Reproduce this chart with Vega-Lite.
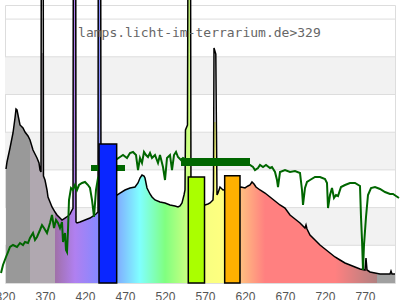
{
  "$schema": "https://vega.github.io/schema/vega-lite/v6.json",
  "width": 390,
  "height": 278,
  "autosize": "none",
  "padding": {"left": 5, "top": 5, "right": 5, "bottom": 17},
  "background": "white",
  "config": {"view": {"stroke": "#dddddd", "strokeWidth": 1}},
  "datasets": {
    "bands": [{"lo": 100, "hi": 200}, {"lo": 300, "hi": 400}, {"lo": 500, "hi": 600}],
    "grid": [{"g": 100}, {"g": 200}, {"g": 300}, {"g": 400}, {"g": 500}, {"g": 600}, {"g": 700}],
    "spec": [
      {"nm": 321.25, "v": 302.4, "f": 302.4}, {"nm": 322.5, "v": 321.0, "f": 321.0}, {"nm": 326.25, "v": 358.1, "f": 358.1},
      {"nm": 330, "v": 397.9, "f": 397.9}, {"nm": 332.5, "v": 437.7, "f": 437.7}, {"nm": 333.75, "v": 461.5, "f": 461.5},
      {"nm": 335, "v": 458.9, "f": 458.9}, {"nm": 336.25, "v": 445.6, "f": 445.6}, {"nm": 338.75, "v": 419.1, "f": 419.1},
      {"nm": 342.5, "v": 411.1, "f": 411.1}, {"nm": 345, "v": 400.5, "f": 400.5}, {"nm": 348.75, "v": 389.9, "f": 389.9},
      {"nm": 351.25, "v": 379.3, "f": 379.3}, {"nm": 355, "v": 352.8, "f": 352.8}, {"nm": 357.5, "v": 342.2, "f": 342.2},
      {"nm": 360, "v": 331.6, "f": 331.6}, {"nm": 362.5, "v": 318.3, "f": 318.3}, {"nm": 363.75, "v": 299.7, "f": 299.7},
      {"nm": 365, "v": 294.4, "f": 294.4}, {"nm": 365.4, "v": 900, "f": 610.1}, {"nm": 367.75, "v": 900, "f": 610.1},
      {"nm": 368.1, "v": 283.8, "f": 283.8}, {"nm": 370, "v": 273.2, "f": 273.2}, {"nm": 372.5, "v": 246.7, "f": 246.7},
      {"nm": 373.75, "v": 228.1, "f": 228.1}, {"nm": 376.25, "v": 214.9, "f": 214.9}, {"nm": 378.75, "v": 201.6, "f": 201.6},
      {"nm": 382.5, "v": 188.3, "f": 188.3}, {"nm": 385, "v": 180.4, "f": 180.4}, {"nm": 388.75, "v": 172.4, "f": 172.4},
      {"nm": 391.25, "v": 167.1, "f": 167.1}, {"nm": 395, "v": 172.4, "f": 172.4}, {"nm": 398.75, "v": 177.7, "f": 177.7},
      {"nm": 401.25, "v": 183.0, "f": 183.0}, {"nm": 403.75, "v": 193.6, "f": 193.6}, {"nm": 405, "v": 198, "f": 198},
      {"nm": 405.4, "v": 900, "f": 900}, {"nm": 408.4, "v": 900, "f": 900}, {"nm": 408.75, "v": 161.8, "f": 161.8},
      {"nm": 410, "v": 159.2, "f": 159.2}, {"nm": 413.75, "v": 161.8, "f": 161.8}, {"nm": 420, "v": 167.1, "f": 167.1},
      {"nm": 426.25, "v": 172.4, "f": 172.4}, {"nm": 430, "v": 177.7, "f": 177.7}, {"nm": 433.75, "v": 183.0, "f": 183.0},
      {"nm": 435, "v": 185.7, "f": 185.7}, {"nm": 436.25, "v": 188.3, "f": 188.3}, {"nm": 436.6, "v": 900, "f": 900},
      {"nm": 439.6, "v": 900, "f": 900}, {"nm": 440, "v": 220.2, "f": 220.2}, {"nm": 445, "v": 225.5, "f": 225.5},
      {"nm": 451.25, "v": 228.1, "f": 228.1}, {"nm": 457.5, "v": 230.8, "f": 230.8}, {"nm": 460, "v": 233.4, "f": 233.4},
      {"nm": 463.75, "v": 238.7, "f": 238.7}, {"nm": 470, "v": 246.7, "f": 246.7}, {"nm": 476.25, "v": 252.0, "f": 252.0},
      {"nm": 482.5, "v": 254.6, "f": 254.6}, {"nm": 486.25, "v": 265.3, "f": 265.3}, {"nm": 488.75, "v": 278.5, "f": 278.5},
      {"nm": 491.25, "v": 286.5, "f": 286.5}, {"nm": 493.75, "v": 283.8, "f": 283.8}, {"nm": 495, "v": 278.5, "f": 278.5},
      {"nm": 497.5, "v": 252.0, "f": 252.0}, {"nm": 501.25, "v": 236.1, "f": 236.1}, {"nm": 503.75, "v": 228.1, "f": 228.1},
      {"nm": 507.5, "v": 220.2, "f": 220.2}, {"nm": 513.75, "v": 214.9, "f": 214.9}, {"nm": 520, "v": 212.2, "f": 212.2},
      {"nm": 526.25, "v": 206.9, "f": 206.9}, {"nm": 532.5, "v": 204.2, "f": 204.2}, {"nm": 536.25, "v": 201.6, "f": 201.6},
      {"nm": 538.75, "v": 204.2, "f": 204.2}, {"nm": 541.25, "v": 212.2, "f": 212.2}, {"nm": 543.75, "v": 233.4, "f": 233.4},
      {"nm": 545, "v": 246.7, "f": 246.7}, {"nm": 545.6, "v": 405.8, "f": 405.8}, {"nm": 548.1, "v": 419.1, "f": 419.1},
      {"nm": 548.75, "v": 900, "f": 900}, {"nm": 551.9, "v": 900, "f": 900}, {"nm": 552.5, "v": 212.2, "f": 212.2},
      {"nm": 557.5, "v": 206.9, "f": 206.9}, {"nm": 563.75, "v": 206.9, "f": 206.9}, {"nm": 570, "v": 206.9, "f": 206.9},
      {"nm": 573.75, "v": 209.5, "f": 209.5}, {"nm": 576.25, "v": 212.2, "f": 212.2}, {"nm": 580, "v": 220.2, "f": 220.2},
      {"nm": 580.6, "v": 246.7, "f": 246.7}, {"nm": 581.25, "v": 623.3, "f": 427.1}, {"nm": 583.5, "v": 607.4, "f": 427.1},
      {"nm": 585, "v": 233.4, "f": 233.4}, {"nm": 586.25, "v": 238.7, "f": 238.7}, {"nm": 588.75, "v": 254.6, "f": 254.6},
      {"nm": 591.25, "v": 249.3, "f": 249.3}, {"nm": 592.5, "v": 246.7, "f": 246.7}, {"nm": 601.25, "v": 249.3, "f": 249.3},
      {"nm": 607.5, "v": 252.0, "f": 252.0}, {"nm": 615, "v": 254.6, "f": 254.6}, {"nm": 620, "v": 252.0, "f": 252.0},
      {"nm": 623.75, "v": 257.3, "f": 257.3}, {"nm": 626.25, "v": 259.9, "f": 259.9}, {"nm": 628.75, "v": 267.9, "f": 267.9},
      {"nm": 631.25, "v": 262.6, "f": 262.6}, {"nm": 633.75, "v": 254.6, "f": 254.6}, {"nm": 638.75, "v": 246.7, "f": 246.7},
      {"nm": 645, "v": 238.7, "f": 238.7}, {"nm": 651.25, "v": 228.1, "f": 228.1}, {"nm": 657.5, "v": 217.5, "f": 217.5},
      {"nm": 663.75, "v": 206.9, "f": 206.9}, {"nm": 670, "v": 198.9, "f": 198.9}, {"nm": 676.25, "v": 180.4, "f": 180.4},
      {"nm": 682.5, "v": 169.8, "f": 169.8}, {"nm": 688.75, "v": 159.2, "f": 159.2}, {"nm": 695, "v": 145.9, "f": 145.9},
      {"nm": 696.25, "v": 153.8, "f": 153.8}, {"nm": 697.5, "v": 143.2, "f": 143.2}, {"nm": 701.25, "v": 127.3, "f": 127.3},
      {"nm": 707.5, "v": 114.1, "f": 114.1}, {"nm": 713.75, "v": 100.8, "f": 100.8}, {"nm": 720, "v": 90.2, "f": 90.2},
      {"nm": 726.25, "v": 79.6, "f": 79.6}, {"nm": 732.5, "v": 69.0, "f": 69.0}, {"nm": 738.75, "v": 61.0, "f": 61.0},
      {"nm": 745, "v": 53.1, "f": 53.1}, {"nm": 751.25, "v": 47.7, "f": 47.7}, {"nm": 757.5, "v": 42.4, "f": 42.4},
      {"nm": 763.75, "v": 37.1, "f": 37.1}, {"nm": 770, "v": 34.5, "f": 34.5}, {"nm": 771.25, "v": 66.3, "f": 66.3},
      {"nm": 772.5, "v": 34.5, "f": 34.5}, {"nm": 776.25, "v": 29.2, "f": 29.2}, {"nm": 782.5, "v": 26.5, "f": 26.5},
      {"nm": 788.75, "v": 23.9, "f": 23.9}, {"nm": 795, "v": 23.9, "f": 23.9}, {"nm": 801.25, "v": 23.9, "f": 23.9},
      {"nm": 802.5, "v": 31.8, "f": 31.8}, {"nm": 803.75, "v": 23.9, "f": 23.9}, {"nm": 807.5, "v": 23.9, "f": 23.9}
    ],
    "sun": [
      {"nm": 315, "g": 26.5}, {"nm": 317.5, "g": 47.7}, {"nm": 321.25, "g": 69.0}, {"nm": 323.75, "g": 82.2},
      {"nm": 326.25, "g": 95.5}, {"nm": 330, "g": 100.8}, {"nm": 335, "g": 95.5}, {"nm": 338.75, "g": 106.1},
      {"nm": 342.5, "g": 100.8}, {"nm": 345, "g": 108.8}, {"nm": 348.75, "g": 106.1}, {"nm": 351.25, "g": 119.4},
      {"nm": 355, "g": 132.6}, {"nm": 357.5, "g": 114.1}, {"nm": 360, "g": 122.0}, {"nm": 363.75, "g": 140.6},
      {"nm": 366.25, "g": 153.8}, {"nm": 368.75, "g": 145.9}, {"nm": 372.5, "g": 132.6}, {"nm": 376.25, "g": 159.2},
      {"nm": 378.75, "g": 180.4}, {"nm": 381.25, "g": 145.9}, {"nm": 383.75, "g": 167.1}, {"nm": 386.25, "g": 159.2},
      {"nm": 388.75, "g": 145.9}, {"nm": 391.25, "g": 161.8}, {"nm": 392.5, "g": 108.8}, {"nm": 395, "g": 132.6},
      {"nm": 396.25, "g": 87.5}, {"nm": 397.5, "g": 82.2}, {"nm": 398.75, "g": 140.6}, {"nm": 400, "g": 220.2},
      {"nm": 402.5, "g": 252.0}, {"nm": 405, "g": 246.7}, {"nm": 407.5, "g": 259.9}, {"nm": 410, "g": 246.7},
      {"nm": 412.5, "g": 259.9}, {"nm": 416.25, "g": 265.3}, {"nm": 420, "g": 267.9}, {"nm": 423.75, "g": 259.9},
      {"nm": 426.25, "g": 252.0}, {"nm": 428.75, "g": 220.2}, {"nm": 431.25, "g": 175.1}, {"nm": 433.75, "g": 246.7},
      {"nm": 436.25, "g": 278.5}, {"nm": 445, "g": 313.0}, {"nm": 451.25, "g": 326.3}, {"nm": 460, "g": 328.9},
      {"nm": 463.75, "g": 334.2}, {"nm": 467.5, "g": 339.5}, {"nm": 472.5, "g": 331.6}, {"nm": 476.25, "g": 344.8},
      {"nm": 480, "g": 347.5}, {"nm": 483.75, "g": 339.5}, {"nm": 486.25, "g": 299.7}, {"nm": 488.75, "g": 331.6},
      {"nm": 491.25, "g": 318.3}, {"nm": 493.75, "g": 347.5}, {"nm": 496.25, "g": 339.5}, {"nm": 498.75, "g": 334.2},
      {"nm": 501.25, "g": 344.8}, {"nm": 503.75, "g": 331.6}, {"nm": 507.5, "g": 339.5}, {"nm": 511.25, "g": 318.3},
      {"nm": 513.75, "g": 339.5}, {"nm": 517.5, "g": 307.7}, {"nm": 520, "g": 273.2}, {"nm": 522.5, "g": 331.6},
      {"nm": 526.25, "g": 339.5}, {"nm": 528.75, "g": 299.7}, {"nm": 531.25, "g": 339.5}, {"nm": 533.75, "g": 347.5},
      {"nm": 536.25, "g": 334.2}, {"nm": 540, "g": 326.3}, {"nm": 542.5, "g": 331.6}, {"nm": 551.25, "g": 321.0},
      {"nm": 563.75, "g": 321.0}, {"nm": 576.25, "g": 323.6}, {"nm": 588.75, "g": 321.0}, {"nm": 601.25, "g": 321.0},
      {"nm": 613.75, "g": 318.3}, {"nm": 626.25, "g": 313.0}, {"nm": 630, "g": 307.7}, {"nm": 632.5, "g": 299.7},
      {"nm": 636.25, "g": 305.0}, {"nm": 638.75, "g": 313.0}, {"nm": 642.5, "g": 307.7}, {"nm": 646.25, "g": 313.0},
      {"nm": 651.25, "g": 305.0}, {"nm": 653.75, "g": 307.7}, {"nm": 657.5, "g": 294.4}, {"nm": 660, "g": 273.2},
      {"nm": 661.25, "g": 254.6}, {"nm": 663.75, "g": 294.4}, {"nm": 670, "g": 299.7}, {"nm": 676.25, "g": 294.4},
      {"nm": 682.5, "g": 297.1}, {"nm": 688.75, "g": 291.8}, {"nm": 691.25, "g": 246.7}, {"nm": 692.5, "g": 206.9},
      {"nm": 695, "g": 252.0}, {"nm": 697.5, "g": 267.9}, {"nm": 701.25, "g": 273.2}, {"nm": 707.5, "g": 281.2},
      {"nm": 713.75, "g": 281.2}, {"nm": 720, "g": 275.9}, {"nm": 722.5, "g": 265.3}, {"nm": 723.75, "g": 198.9},
      {"nm": 726.25, "g": 233.4}, {"nm": 728.75, "g": 252.0}, {"nm": 731.25, "g": 225.5}, {"nm": 733.75, "g": 233.4},
      {"nm": 736.25, "g": 230.8}, {"nm": 740, "g": 254.6}, {"nm": 745, "g": 259.9}, {"nm": 751.25, "g": 265.3},
      {"nm": 757.5, "g": 265.3}, {"nm": 763.75, "g": 257.3}, {"nm": 765, "g": 175.1}, {"nm": 766.25, "g": 114.1},
      {"nm": 767.5, "g": 34.5}, {"nm": 768.75, "g": 100.8}, {"nm": 771.25, "g": 175.1}, {"nm": 773.75, "g": 233.4},
      {"nm": 777.5, "g": 252.0}, {"nm": 782.5, "g": 254.6}, {"nm": 788.75, "g": 249.3}, {"nm": 795, "g": 241.4},
      {"nm": 801.25, "g": 236.1}, {"nm": 805, "g": 236.1}, {"nm": 808.75, "g": 230.8}, {"nm": 812.5, "g": 225.5}
    ],
    "segs": [
      {"a": 427.5, "b": 470, "lo": 297.1, "hi": 313.0},
      {"a": 540, "b": 626.25, "lo": 310.3, "hi": 331.6}
    ],
    "bars": [
      {"name": "blue", "a": 437.5, "b": 459.6, "top": 368.7},
      {"name": "green", "a": 549.1, "b": 569.4, "top": 281.2},
      {"name": "orange", "a": 594.6, "b": 613.75, "top": 284.6}
    ],
    "label": [{"nm": 563, "v": 663, "t": "lamps.licht-im-terrarium.de>329"}]
  },
  "layer": [
    {
      "data": {"name": "bands"},
      "mark": {"type": "rect", "color": "#f2f2f2"},
      "encoding": {
        "x": {"datum": 320, "type": "quantitative", "scale": {"domain": [320, 807.5], "nice": false, "zero": false},
          "axis": {"values": [320, 370, 420, 470, 520, 570, 620, 670, 720, 770], "title": null, "ticks": false, "domain": false, "grid": false,
            "labelFlush": false, "labelOverlap": false, "labelBound": false, "labelPadding": 8, "labelFontSize": 12,
            "labelFont": "Liberation Sans", "labelColor": "#555555"}},
        "x2": {"datum": 807.5},
        "y": {"field": "lo", "type": "quantitative", "scale": {"domain": [0, 737.4], "nice": false, "zero": false}, "axis": null},
        "y2": {"field": "hi"}
      }
    },
    {
      "data": {"name": "grid"},
      "mark": {"type": "rule", "color": "#dddddd", "strokeWidth": 1},
      "encoding": {"y": {"field": "g", "type": "quantitative"}}
    },
    {
      "data": {"name": "spec"},
      "mark": {"type": "area", "fill": {"gradient": "linear", "x1": 0, "y1": 0, "x2": 1, "y2": 0, "stops": [
        {"offset": 0, "color": "#999999"}, {"offset": 0.0617, "color": "#999999"},
        {"offset": 0.0617, "color": "#b0a8b0"}, {"offset": 0.126, "color": "#b0a8b0"},
        {"offset": 0.126, "color": "#a070a8"}, {"offset": 0.177, "color": "#b080f0"},
        {"offset": 0.234, "color": "#8888ff"}, {"offset": 0.283, "color": "#80a8ff"},
        {"offset": 0.344, "color": "#80ffff"}, {"offset": 0.409, "color": "#80ff80"},
        {"offset": 0.465, "color": "#c8ff80"}, {"offset": 0.512, "color": "#f8ff80"},
        {"offset": 0.560, "color": "#ffff80"}, {"offset": 0.602, "color": "#ffc080"},
        {"offset": 0.666, "color": "#ff8080"}, {"offset": 0.846, "color": "#ff8080"},
        {"offset": 0.954, "color": "#b08080"}, {"offset": 0.954, "color": "#a0a0a0"},
        {"offset": 1, "color": "#a0a0a0"}]}},
      "encoding": {
        "x": {"field": "nm", "type": "quantitative"},
        "y": {"field": "f", "type": "quantitative"}
      }
    },
    {
      "data": {"name": "spec"},
      "mark": {"type": "line", "color": "#000000", "strokeWidth": 1.5},
      "encoding": {
        "x": {"field": "nm", "type": "quantitative"},
        "y": {"field": "v", "type": "quantitative"}
      }
    },
    {
      "data": {"name": "sun"},
      "mark": {"type": "line", "color": "#006600", "strokeWidth": 2},
      "encoding": {
        "x": {"field": "nm", "type": "quantitative"},
        "y": {"field": "g", "type": "quantitative"}
      }
    },
    {
      "data": {"name": "segs"},
      "mark": {"type": "rect", "color": "#006600"},
      "encoding": {
        "x": {"field": "a", "type": "quantitative"},
        "x2": {"field": "b"},
        "y": {"field": "lo", "type": "quantitative"},
        "y2": {"field": "hi"}
      }
    },
    {
      "data": {"name": "bars"},
      "mark": {"type": "rect", "stroke": "#000000", "strokeWidth": 1.5},
      "encoding": {
        "x": {"field": "a", "type": "quantitative"},
        "x2": {"field": "b"},
        "y": {"field": "top", "type": "quantitative"},
        "y2": {"datum": 0},
        "fill": {"field": "name", "type": "nominal", "legend": null,
          "scale": {"domain": ["blue", "green", "orange"], "range": ["#0a26ff", "#aaff00", "#ffb000"]}}
      }
    },
    {
      "data": {"name": "label"},
      "mark": {"type": "text", "font": "DejaVu Sans Mono", "fontSize": 13, "color": "#666666", "align": "center", "baseline": "middle"},
      "encoding": {
        "x": {"field": "nm", "type": "quantitative"},
        "y": {"field": "v", "type": "quantitative"},
        "text": {"field": "t"}
      }
    }
  ]
}
